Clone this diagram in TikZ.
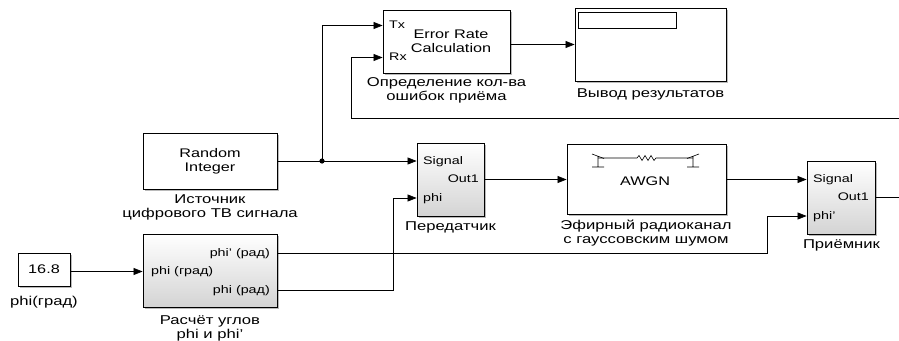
\documentclass[tikz,border=0pt]{standalone}
\usepackage{fontspec}
\setmainfont{Liberation Sans}[FakeStretch=1.3]
\usetikzlibrary{arrows.meta,shadows}

\begin{document}
\begin{tikzpicture}[x=1pt, y=-1pt,
		font=\fontsize{12.5}{13.5}\selectfont,
		blk/.style={draw, line width=0.9pt, fill=white, inner sep=0pt,
			drop shadow={shadow xshift=1.6pt, shadow yshift=-1.6pt, opacity=0.45, fill=black!60}},
		gblk/.style={blk, top color=white, bottom color=black!17},
		wire/.style={line width=0.7pt},
		arr/.style={wire, -{Triangle[length=9pt, width=7pt]}},
		plbl/.style={inner sep=0pt, text height=8pt, text depth=2pt, font=\fontsize{11}{12}\selectfont},
		blklbl/.style={align=center, inner sep=0pt, font=\fontsize{12.8}{14}\selectfont}]
		\useasboundingbox (0,0) rectangle (899,340);
		\node[blk, minimum width=127pt, minimum height=63pt] (err) at (446.5,41.5) {};
		\node[align=center, inner sep=0pt] (errT) at (451,41.5) {Error Rate\\Calculation};
		\node[plbl, anchor=west] (errTx) at (389,25.5) {Tx};
		\node[plbl, anchor=west] (errRx) at (389,57.5) {Rx};
		\node[blklbl] (errC) at (446.5,90.5) {Определение кол-ва\\ошибок приёма};
		\node[blk, minimum width=151pt, minimum height=73pt] (disp) at (650.5,44.5) {};
		\node[draw, line width=0.7pt, inner sep=0pt, minimum width=98pt, minimum height=16pt] (dispW) at (627,20) {};
		\node[blklbl] (dispC) at (650.5,94) {Вывод результатов};
		\node[blk, minimum width=134pt, minimum height=56pt] (rnd) at (210,161) {};
		\node[align=center, inner sep=0pt] (rndT) at (210,161.5) {Random\\Integer};
		\node[blklbl] (rndC) at (210,207) {Источник\\цифрового ТВ сигнала};
		\node[blk, minimum width=52pt, minimum height=33pt] (const) at (44,269.5) {16.8};
		\node[blklbl] (constC) at (44,302) {phi(град)};
		\node[gblk, minimum width=134pt, minimum height=73pt] (calc) at (210,270.5) {};
		\node[plbl, anchor=east] (calcO1) at (270,253) {phi' (рад)};
		\node[plbl, anchor=west] (calcI) at (151,271.5) {phi (град)};
		\node[plbl, anchor=east] (calcO2) at (270,290) {phi (рад)};
		\node[blklbl] (calcC) at (210,328.5) {Расчёт углов\\phi и phi'};
		\node[gblk, minimum width=67pt, minimum height=73pt] (tx) at (450.5,179.5) {};
		\node[plbl, anchor=west] (txS) at (423,161) {Signal};
		\node[plbl, anchor=east] (txO) at (479,179.5) {Out1};
		\node[plbl, anchor=west] (txP) at (423,198) {phi};
		\node[blklbl] (txC) at (450.5,227) {Передатчик};
		\node[blk, minimum width=159pt, minimum height=70pt] (awgn) at (646.5,179.5) {};
		\node[inner sep=0pt] (awgnT) at (645,181) {AWGN};
		\node[blklbl] (awgnC) at (646,233) {Эфирный радиоканал\\с гауссовским шумом};
		\node[gblk, minimum width=68pt, minimum height=73pt] (rx) at (841,197.5) {};
		\node[plbl, anchor=west] (rxS) at (813,179.5) {Signal};
		\node[plbl, anchor=east] (rxO) at (869,197.5) {Out1};
		\node[plbl, anchor=west] (rxP) at (813,216) {phi'};
		\node[blklbl] (rxC) at (841.5,245) {Приёмник};
		\draw[line width=0.6pt] (598,158) -- (637,158) -- (639,155.5) -- (642,160.5) -- (645,155.5)
			-- (648,160.5) -- (651,155.5) -- (654,160.5) -- (656,158) -- (693,158);
		\draw[line width=0.6pt] (592,154) -- (604,158.5) (598,156) -- (598,167) (592,167) -- (604,167);
		\draw[line width=0.6pt] (687,158.5) -- (699,154) (693,156) -- (693,167) (687,167) -- (699,167);
		\coordinate (j) at (322,161);
		\coordinate (rxEnd) at (899,118);
		\coordinate (rxTurn) at (351,118);
		\coordinate (outEnd) at (899,197.5);
		\coordinate (k1) at (767,253);
		\coordinate (k2) at (393,290);
		\draw[wire] (rnd.east |- j) -- (j);
		\draw[arr] (j) -- (tx.west |- txS);
		\draw[arr] (j) |- (err.west |- errTx);
		\fill (j) circle (2.6pt);
		\draw[arr] (rxEnd) -- (rxTurn) |- (err.west |- errRx);
		\draw[arr] (err.east |- disp) -- (disp.west);
		\draw[arr] (tx.east |- txO) -- (awgn.west |- txO);
		\draw[arr] (awgn.east |- rxS) -- (rx.west |- rxS);
		\draw[wire] (rx.east |- rxO) -- (outEnd);
		\draw[arr] (const.east |- calcI) -- (calc.west |- calcI);
		\draw[arr] (calc.east |- k1) -- (k1) |- (rx.west |- rxP);
		\draw[arr] (calc.east |- k2) -- (k2) |- (tx.west |- txP);
	\end{tikzpicture}
\end{document}
